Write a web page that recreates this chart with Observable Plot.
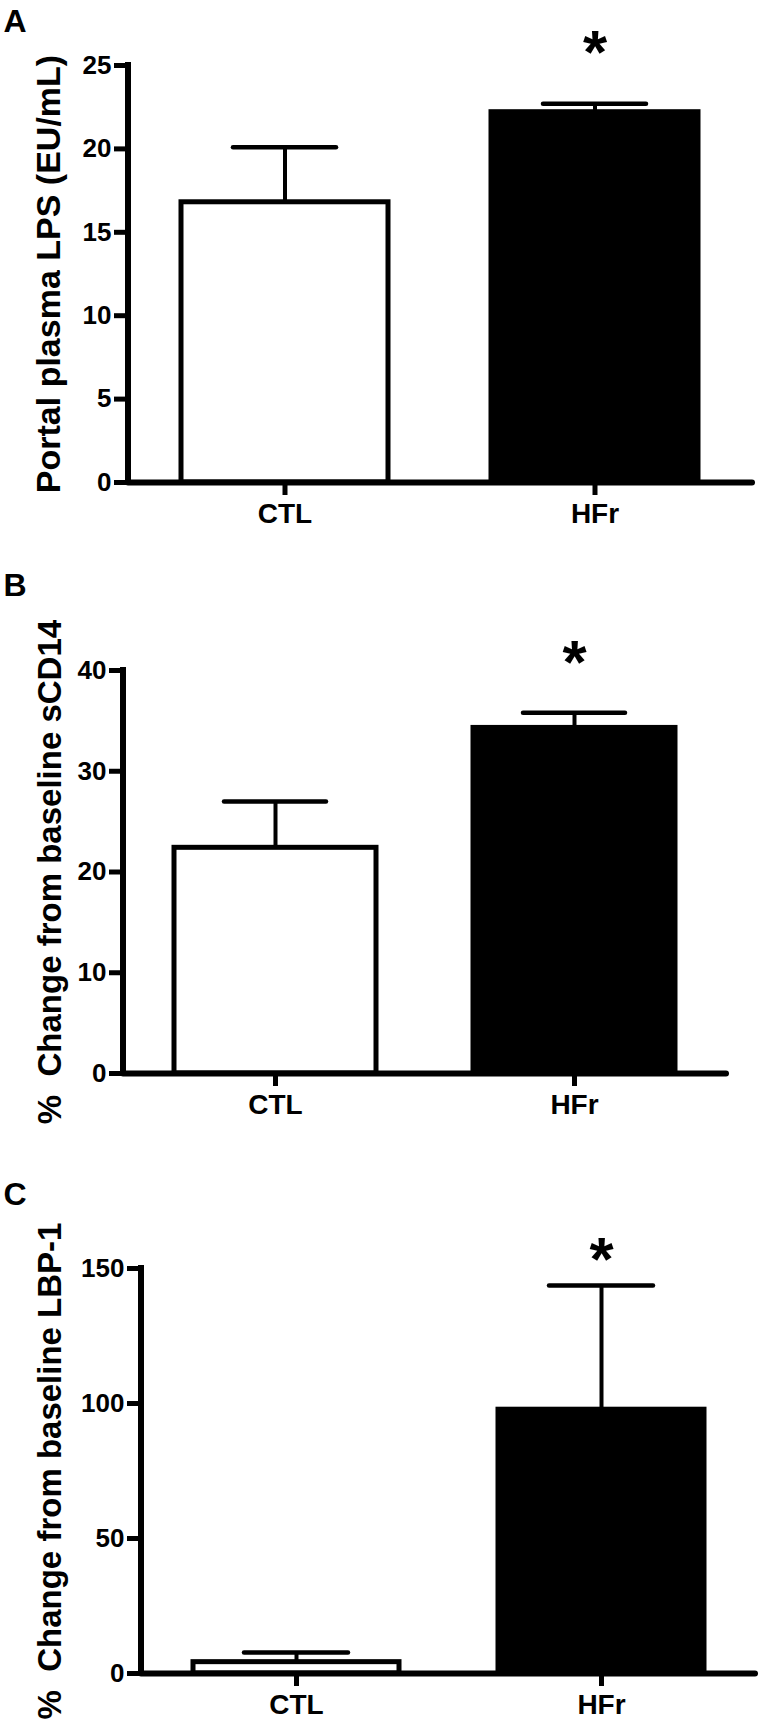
<!DOCTYPE html>
<html>
<head>
<meta charset="utf-8">
<script src="https://cdn.jsdelivr.net/npm/d3@7"></script>
<script src="https://cdn.jsdelivr.net/npm/@observablehq/plot@0.6"></script>
<style>
html, body { margin: 0; padding: 0; background: #fff; }
#chart svg { display: block; }
</style>
</head>
<body>
<div id="chart"></div>
<script>
// ---- data ----
const groups = ["CTL", "HFr"];
const barFills = ["white", "black"];
const significance = ["", "*"];

const lpsMean = [16.8, 22.2];
const lpsSem = [3.3, 0.5];
const lpsTicks = [0, 5, 10, 15, 20, 25];

const sCD14Mean = [22.4, 34.3];
const sCD14Sem = [4.6, 1.5];
const sCD14Ticks = [0, 10, 20, 30, 40];

const lbpMean = [4.2, 97.7];
const lbpSem = [3.6, 46.0];
const lbpTicks = [0, 50, 100, 150];

const panelLetters = ["A", "B", "C"];
const yTitles = [
  "Portal plasma LPS (EU/mL)",
  "%\u00a0 Change from baseline sCD14",
  "%\u00a0 Change from baseline LBP-1"
];

// ---- helpers ----
const FONT = "'Liberation Sans', Arial, Helvetica, sans-serif";
const NS = "http://www.w3.org/2000/svg";

function rowsOf(means, sems) {
  return groups.map((g, i) => ({
    group: g, mean: means[i], upper: means[i] + sems[i],
    fill: barFills[i], sig: significance[i]
  }));
}

function yAxisLine(sw) {
  return (index, scales, values, dims) => {
    const l = document.createElementNS(NS, "line");
    const x = dims.marginLeft;
    l.setAttribute("x1", x); l.setAttribute("x2", x);
    l.setAttribute("y1", dims.marginTop);
    l.setAttribute("y2", dims.height - dims.marginBottom);
    l.setAttribute("stroke", "black");
    l.setAttribute("stroke-width", sw);
    l.setAttribute("stroke-linecap", "square");
    return l;
  };
}

function panel(cfg) {
  const rows = rowsOf(cfg.means, cfg.sems);
  return Plot.plot({
    width: 759,
    height: cfg.height,
    marginLeft: cfg.ml,
    marginRight: cfg.mr,
    marginTop: cfg.mt,
    marginBottom: cfg.mb,
    style: { background: "white", color: "black", fontFamily: FONT, overflow: "visible" },
    color: { type: "identity" },
    x: { type: "band", domain: groups, paddingInner: cfg.pi, paddingOuter: cfg.po, axis: null },
    y: { domain: [0, cfg.ticks[cfg.ticks.length - 1]], axis: null },
    marks: [
      Plot.barY(rows, { x: "group", y: "mean", fill: "fill", stroke: "black", strokeWidth: 5 }),
      Plot.ruleX(rows, { x: "group", y1: "mean", y2: "upper", stroke: "black", strokeWidth: 4 }),
      Plot.tickY(rows, { x: "group", y: "upper", stroke: "black", strokeWidth: 4.5, inset: cfg.capInset, strokeLinecap: "round" }),
      Plot.ruleY([0], { stroke: "black", strokeWidth: 6, strokeLinecap: "round" }),
      yAxisLine(6),
      Plot.axisY({ ticks: cfg.ticks, tickSize: 14, tickPadding: 3, strokeWidth: 5, fontSize: 26, fontWeight: "bold", label: null }),
      Plot.axisX({ tickSize: 13, tickPadding: 8, strokeWidth: 5, fontSize: 28, fontWeight: "bold", label: null }),
      Plot.text(rows, { x: "group", text: "sig", frameAnchor: "top", dy: cfg.starDy, fontSize: 62, fontWeight: "bold" }),
      Plot.text([cfg.title], { text: d => d, frameAnchor: "left", rotate: -90, dx: cfg.titleDx, textAnchor: "middle", fontSize: cfg.titleSize, fontWeight: "bold" }),
      Plot.text([cfg.letter], { text: d => d, frameAnchor: "top-left", textAnchor: "start", lineAnchor: "top", dx: cfg.letterDx, dy: cfg.letterDy, fontSize: 32, fontWeight: "bold" })
    ]
  });
}

const chart = document.getElementById("chart");
chart.append(panel({
  means: lpsMean, sems: lpsSem, ticks: lpsTicks, title: yTitles[0], letter: panelLetters[0],
  height: 560, ml: 128, mr: 7, mt: 65, mb: 78, pi: 0.332, po: 0.172, capInset: 52,
  titleDx: -79, titleSize: 34, letterDx: -125, letterDy: -56, starDy: -37
}));
chart.append(panel({
  means: sCD14Mean, sems: sCD14Sem, ticks: sCD14Ticks, title: yTitles[1], letter: panelLetters[1],
  height: 590, ml: 123, mr: 33, mt: 110, mb: 77, pi: 0.324, po: 0.17, capInset: 50,
  titleDx: -73, titleSize: 33, letterDx: -120, letterDy: -97, starDy: -32
}));
chart.append(panel({
  means: lbpMean, sems: lbpSem, ticks: lbpTicks, title: yTitles[2], letter: panelLetters[2],
  height: 579, ml: 141, mr: 4, mt: 118, mb: 56, pi: 0.325, po: 0.166, capInset: 51,
  titleDx: -91, titleSize: 33, letterDx: -138, letterDy: -86, starDy: -33
}));
</script>
</body>
</html>
